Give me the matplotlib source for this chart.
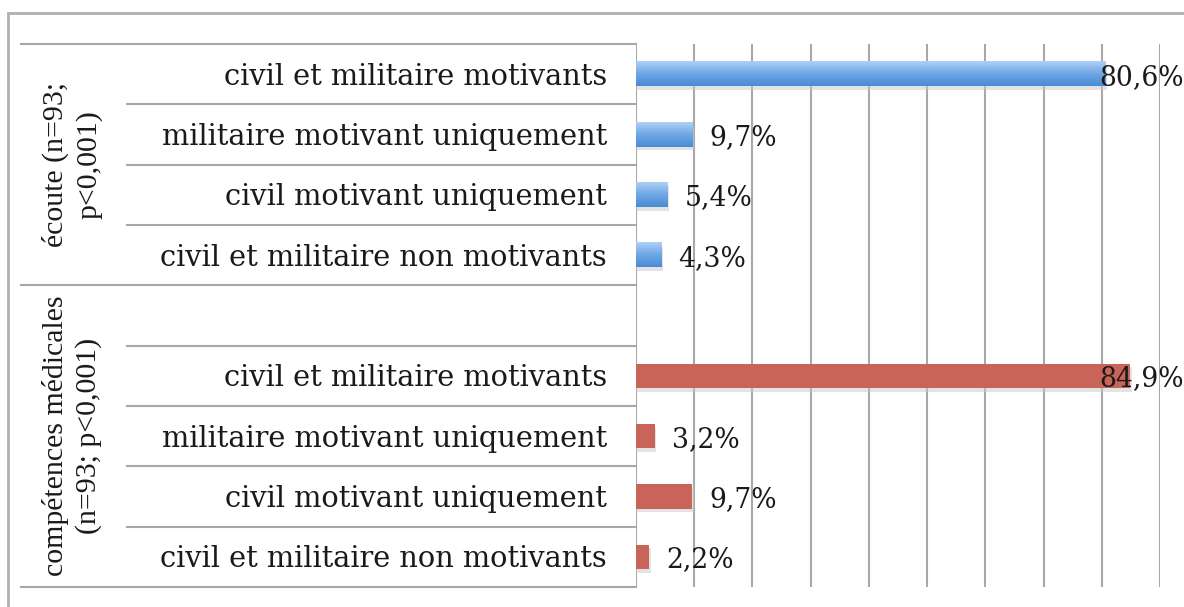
import matplotlib.pyplot as plt
import numpy as np
from matplotlib.colors import LinearSegmentedColormap
from matplotlib.patches import Rectangle
from matplotlib.transforms import blended_transform_factory

# data
groups = ["écoute (n=93;\np<0,001)", "compétences médicales\n(n=93; p<0,001)"]
answers = ["civil et militaire motivants", "militaire motivant uniquement",
           "civil motivant uniquement", "civil et militaire non motivants"]
ecoute = [80.6, 9.7, 5.4, 4.3]
competences = [84.9, 3.2, 9.7, 2.2]
value_labels_ecoute = ["80,6%", "9,7%", "5,4%", "4,3%"]
value_labels_comp = ["84,9%", "3,2%", "9,7%", "2,2%"]

W, H = 1184, 607
FONT = "DejaVu Serif"
GROUP_FONT = "Liberation Serif"
TXT = "#1a1a1a"
GRID = "#a8a8a8"

fig = plt.figure(figsize=(W / 100, H / 100), dpi=100)

# plot area in pixel coords
x0, x1 = 636, 1160
y_top, y_bot = 44, 587
ax = fig.add_axes([x0 / W, (H - y_bot) / H, (x1 - x0) / W, (y_bot - y_top) / H])

n_rows = 9
rows_ecoute = np.arange(4) + 0.5
rows_comp = np.arange(5, 9) + 0.5
bar_h = 0.4

blue_cmap = LinearSegmentedColormap.from_list("blue", ["#aed0f6", "#6fa7e6", "#4a8bd4"])
red = "#c8645a"

# gridlines
for gx in range(10, 100, 10):
    ax.axvline(gx, color=GRID, lw=1.5, zorder=1)
ax.axvline(0, color=GRID, lw=1.5, zorder=1)

# shadows
for y, v in list(zip(rows_ecoute, ecoute)) + list(zip(rows_comp, competences)):
    ax.add_patch(Rectangle((0, y - bar_h / 2 + 0.06), v + 0.3, bar_h,
                           color="#c8c8c8", alpha=0.5, lw=0, zorder=2))

# blue bars with gradient
grad = np.linspace(0, 1, 64).reshape(-1, 1)
for y, v in zip(rows_ecoute, ecoute):
    ax.imshow(grad, cmap=blue_cmap, aspect="auto", origin="upper",
              extent=(0, v, y + bar_h / 2, y - bar_h / 2), zorder=3)

# red bars
ax.barh(rows_comp, competences, height=bar_h, color=red, zorder=3)

# value labels
px_per_unit = (x1 - x0) / 90
off = 17 / px_per_unit
right_lim = (1184 - x0) / px_per_unit
for rows, vals, labs in [(rows_ecoute, ecoute, value_labels_ecoute),
                         (rows_comp, competences, value_labels_comp)]:
    for y, v, lab in zip(rows, vals, labs):
        if v > 50:
            ax.text(right_lim, y + 0.05, lab, ha="right", va="center",
                    fontsize=19.2, family=FONT, color=TXT, zorder=5, clip_on=False)
        else:
            ax.text(v + off, y + 0.05, lab, ha="left", va="center",
                    fontsize=19.2, family=FONT, color=TXT, zorder=5, clip_on=False)

ax.set_xlim(0, 90)
ax.set_ylim(n_rows, 0)
ax.axis("off")

# label table on the left
tr = blended_transform_factory(fig.transFigure, ax.transData)
for yl in [0, 4, 9]:
    ax.plot([21 / W, x0 / W], [yl, yl], transform=tr, color=GRID, lw=1.5, clip_on=False)
for yl in [1, 2, 3, 5, 6, 7, 8]:
    ax.plot([127 / W, x0 / W], [yl, yl], transform=tr, color=GRID, lw=1.5, clip_on=False)

for rows in (rows_ecoute, rows_comp):
    for y, lab in zip(rows, answers):
        ax.text(607 / W, y + 0.04, lab, transform=tr, ha="right", va="center",
                fontsize=20.8, family=FONT, color=TXT)

ax.text(72 / W, 2.0, groups[0], transform=tr, rotation=90, ha="center", va="center",
        fontsize=21.5, family=GROUP_FONT, color=TXT, linespacing=1.3, multialignment="center")
ax.text(72 / W, 6.5, groups[1], transform=tr, rotation=90, ha="center", va="center",
        fontsize=21.5, family=GROUP_FONT, color=TXT, linespacing=1.3, multialignment="center")

# outer frame
fig.add_artist(Rectangle((8 / W, -0.05), 1.2, (H - 13) / H + 0.05, transform=fig.transFigure,
                         fill=False, edgecolor="#b0b0b0", lw=2))

fig.savefig("out.png", dpi=100)
